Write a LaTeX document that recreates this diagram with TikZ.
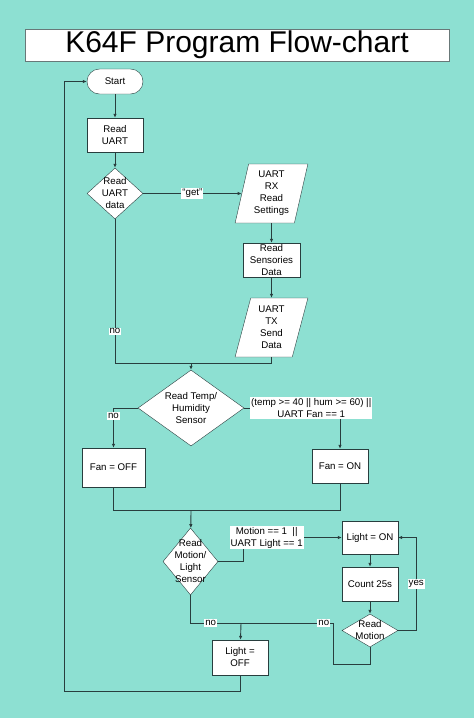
\documentclass[tikz,border=0pt]{standalone}
\usepackage{fontspec}
\setmainfont{Liberation Sans}
\usetikzlibrary{shapes.geometric, arrows.meta, positioning}
\definecolor{bgteal}{RGB}{141,224,210}
\definecolor{flowline}{RGB}{40,62,62}

\tikzset{
	flowbox/.style={draw=flowline, fill=white, align=center, inner sep=1pt, minimum width=56, minimum height=34},
	terminal/.style={flowbox, rounded corners=12.5, minimum height=25},
	iobox/.style={draw=flowline, fill=white, align=center, inner sep=0pt, trapezium, trapezium left angle=77, trapezium right angle=103, trapezium stretches=true, minimum width=73, minimum height=59},
	decision/.style={draw=flowline, fill=white, diamond, inner sep=0pt},
	dtext/.style={align=center},
	tag/.style={fill=white, inner sep=1pt, align=center},
	line/.style={draw=flowline, line width=0.9pt},
	flow/.style={line, -{Latex[length=4pt, width=3.5pt]}}
}

\begin{document}
\begin{tikzpicture}[x=1pt, y=-1pt, font=\fontsize{9.7}{12}\selectfont]
	
	% background
	\fill[bgteal] (0,0) rectangle (474,718);
	
	% 1. TITLE
	\node[draw=flowline!70, fill=white, minimum width=424, minimum height=32, inner sep=0pt, font=\fontsize{30}{32}\selectfont] (title) at (237,45) {K64F Program Flow-chart};
	
	% 2. UART PART
	\node[terminal] (start) at (115,81.5) {Start};
	\node[flowbox] (readuart) at (115,135) {Read\\UART};
	\node[decision, minimum width=56, minimum height=51, label={[dtext]center:Read\\UART\\data}] (uartdata) at (115,193.5) {};
	\node[iobox] (rxread) at (271.5,193.5) {UART\\RX\\Read\\Settings};
	\node[flowbox, minimum width=57] (sensdata) at (271.5,260) {Read\\Sensories\\Data};
	\node[iobox] (txsend) at (271.5,327.5) {UART\\TX\\Send\\Data};
	
	% 3. FAN PART
	\node[decision, minimum width=106, minimum height=76, label={[dtext]center:Read Temp/\\Humidity\\Sensor}] (temp) at (191,408) {};
	\node[flowbox, minimum width=63, minimum height=39] (fanoff) at (113.5,467.5) {Fan = OFF};
	\node[flowbox] (fanon) at (340,466) {Fan = ON};
	
	% 4. LIGHT PART
	\node[decision, minimum width=55, minimum height=67, label={[dtext]center:Read\\Motion/\\Light\\Sensor}] (motion) at (190.5,561.5) {};
	\node[flowbox, minimum height=33] (lighton) at (370,537.5) {Light = ON};
	\node[flowbox] (count) at (370,584) {Count 25s};
	\node[decision, minimum width=56, minimum height=33, label={[dtext]center:Read\\Motion}] (readmotion) at (370,630.5) {};
	\node[flowbox, minimum height=35] (lightoff) at (240,657.5) {Light =\\OFF};
	
	% junctions
	\coordinate (join1) at (191,363);
	\coordinate (join2) at (191,510);
	\coordinate (mbend) at (243,561.5);
	\coordinate (rmback) at (333,664);
	\coordinate (join3) at (241,623);
	\coordinate (loopcorner) at (64,691);
	
	% 5. CONNECTORS
	\draw[flow] (start) -- (readuart);
	\draw[flow] (readuart) -- (uartdata);
	\draw[flow] (uartdata) -- node[tag]{``get''} (rxread);
	\draw[flow] (rxread) -- (sensdata);
	\draw[flow] (sensdata) -- (txsend);
	\draw[line] (uartdata) -- node[tag, pos=0.78]{no} (uartdata |- join1) -| (txsend);
	\draw[flow] (join1) -- (temp);
	
	\draw[flow] (temp.west) -| node[tag, pos=0.6]{no} (fanoff);
	\draw[flow] (temp.east) -| node[tag, pos=0.35]{(temp >= 40 || hum >= 60) ||\\UART Fan == 1} (fanon);
	\draw[line] (fanoff) |- (fanon |- join2) -- (fanon);
	\draw[flow] (join2) -- (motion);
	
	\draw[flow] (motion.east) -- (mbend) |- node[tag, pos=0.62]{Motion == 1 \ ||\\UART Light == 1} (lighton);
	\draw[flow] (lighton) -- (count);
	\draw[flow] (count) -- (readmotion);
	\draw[flow] (readmotion.east) -- ++(18,0) |- node[tag, pos=0.25]{yes} (lighton);
	\draw[line] (readmotion) |- (rmback) |- node[tag, pos=0.55]{no} (join3);
	\draw[line] (motion) |- node[tag, pos=0.7]{no} (join3);
	\draw[flow] (join3) -- (lightoff);
	\draw[flow] (lightoff) |- (loopcorner) |- (start);
	
\end{tikzpicture}
\end{document}
